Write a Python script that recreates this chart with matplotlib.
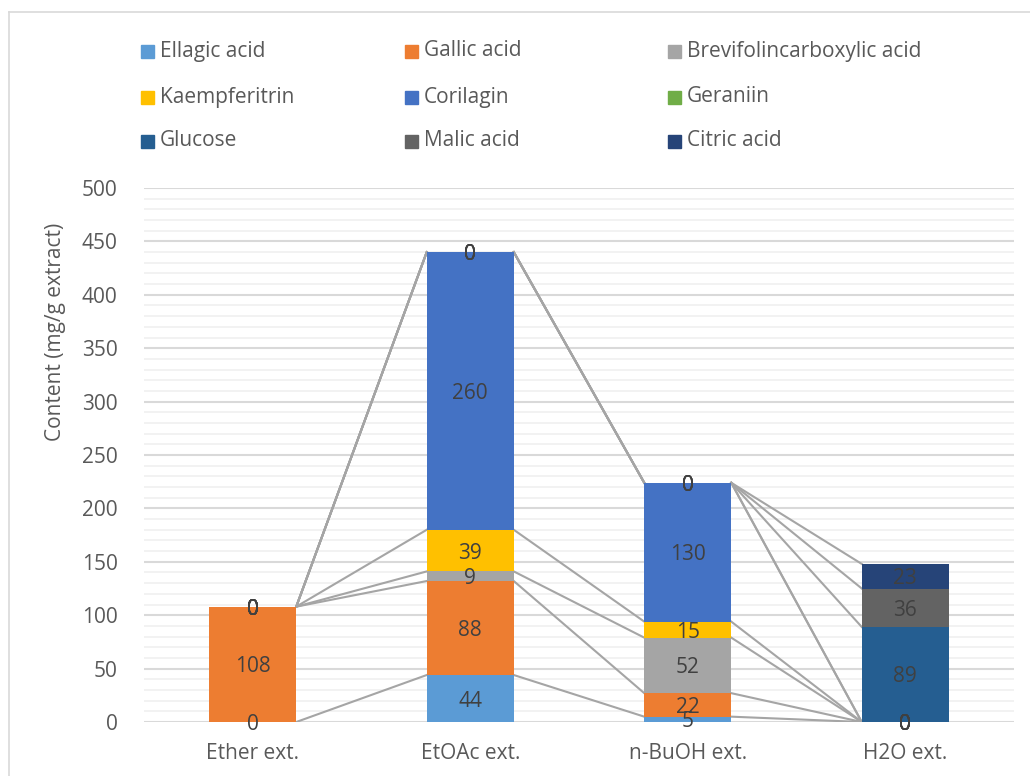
import numpy as np
import matplotlib
matplotlib.use("Agg")
import matplotlib.pyplot as plt
from matplotlib.patches import Rectangle
from matplotlib.lines import Line2D

plt.rcParams['font.family'] = ['Open Sans', 'DejaVu Sans']

categories = ["Ether ext.", "EtOAc ext.", "n-BuOH ext.", "H2O ext."]
series_names = ["Ellagic acid", "Gallic acid", "Brevifolincarboxylic acid",
                "Kaempferitrin", "Corilagin", "Geraniin",
                "Glucose", "Malic acid", "Citric acid"]
ellagic = [0, 44, 5, 0]
gallic = [108, 88, 22, 0]
brevifolin = [0, 9, 52, 0]
kaempferitrin = [0, 39, 15, 0]
corilagin = [0, 260, 130, 0]
geraniin = [0, 0, 0, 0]
glucose = [0, 0, 0, 89]
malic = [0, 0, 0, 36]
citric = [0, 0, 0, 23]
colors = ["#5B9BD5", "#ED7D31", "#A5A5A5", "#FFC000", "#4472C4",
          "#70AD47", "#255E91", "#636363", "#264478"]

values = np.array([ellagic, gallic, brevifolin, kaempferitrin, corilagin,
                   geraniin, glucose, malic, citric], dtype=float)

W, H = 1030, 776
FS = 15
fig = plt.figure(figsize=(W / 100, H / 100), dpi=100)

# chart border (Excel chart area)
fig.add_artist(Line2D([9 / W, 9 / W], [0, 1 - 12 / H], color="#d9d9d9", lw=1.2))
fig.add_artist(Line2D([9 / W, 1], [1 - 12 / H, 1 - 12 / H], color="#d9d9d9", lw=1.2))

ax = fig.add_axes([144 / W, (H - 722) / H, (1014 - 144) / W, (722 - 188) / H])
ax.set_xlim(-0.5, len(categories) - 0.5)
ax.set_ylim(0, 500)

# gridlines: major every 50, minor every 10
for y in np.arange(0, 501, 10):
    major = (y % 50 == 0)
    ax.axhline(y, color="#d9d9d9" if major else "#f0f0f0",
               lw=1.5 if major else 1.2, zorder=0)

x = np.arange(len(categories))
width = 0.4
bottoms = np.zeros(len(categories))
tops = []
for name, vals, col in zip(series_names, values, colors):
    ax.bar(x, vals, width, bottom=bottoms, color=col, edgecolor="none", zorder=2)
    for xi, v, b in zip(x, vals, bottoms):
        ax.text(xi, b + v / 2, f"{v:g}", ha="center", va="center_baseline",
                fontsize=FS, color="#404040", zorder=5)
    bottoms = bottoms + vals
    tops.append(bottoms.copy())

# series lines
for top in tops:
    for i in range(len(categories) - 1):
        ax.plot([x[i] + width / 2, x[i + 1] - width / 2], [top[i], top[i + 1]],
                color="#a5a5a5", lw=1.5, zorder=1)

for s in ax.spines.values():
    s.set_visible(False)
ax.set_yticks(np.arange(0, 501, 50))
ax.set_xticks(x)
ax.set_xticklabels(categories)
ax.tick_params(length=0, labelsize=FS, labelcolor="#595959")
ax.tick_params(axis="y", pad=19)
ax.tick_params(axis="x", pad=15)
fig.text(55 / W, 1 - 332 / H, "Content (mg/g extract)", rotation=90,
         ha="center", va="center", fontsize=FS, color="#595959")

# legend, 3 columns x 3 rows
col_x = [141, 405, 668]
row_y = [51, 97, 141]
for k, (name, col) in enumerate(zip(series_names, colors)):
    cx = col_x[k % 3]
    cy = row_y[k // 3]
    fig.add_artist(Rectangle((cx / W, 1 - (cy + 7) / H), 13 / W, 13 / H,
                             color=col, transform=fig.transFigure))
    fig.text((cx + 19) / W, 1 - cy / H, name, ha="left", va="center",
             fontsize=FS, color="#595959")

fig.savefig("out.png", dpi=100)
